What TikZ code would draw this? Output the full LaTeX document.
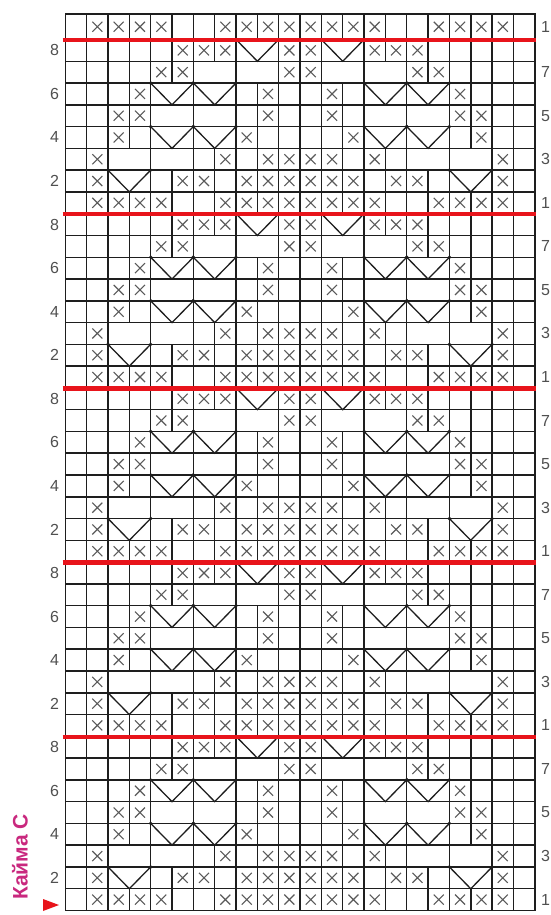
\documentclass[tikz,border=0pt]{standalone}
\usepackage{fontspec}
\setmainfont{Liberation Sans}
\definecolor{gridc}{HTML}{1E1E1E}
\definecolor{xc}{HTML}{5A5A5A}
\definecolor{lblc}{HTML}{505050}
\definecolor{redc}{HTML}{E8141B}
\definecolor{magc}{HTML}{C9287E}
\def\Gl{65.3}\def\Cw{21.34}\def\Gr{534.8}
\def\Rh{21.775}\def\Bz{39.5}\def\Rep{174.2}
\tikzset{
  gridline/.style={line width=1.5pt, draw=gridc, line cap=rect},
  xmark/.style={line width=1.1pt, draw=xc},
  vmark/.style={line width=1.3pt, draw=gridc},
  redline/.style={line width=4.5pt, draw=redc},
  rowlbl/.style={text=lblc, font=\fontsize{16}{16}\selectfont, inner sep=0pt},
}
% #1 ytop, #2 ybot, #3 vertical boundaries, #4 X columns, #5 V left columns (0 = none); lists are macros
\newcommand\chrow[5]{%
  \pgfmathsetmacro\myRt{#1}\pgfmathsetmacro\myRb{#2}\pgfmathsetmacro\myRc{(#1+#2)/2}%
  \foreach \b in #3{\draw[gridline] ({\Gl+\b*\Cw},\myRt) -- ({\Gl+\b*\Cw},\myRb);}%
  \foreach \c in #4{\pgfmathsetmacro\myXc{\Gl+(\c-0.5)*\Cw}%
    \draw[xmark] (\myXc-5,\myRc-5) -- (\myXc+5,\myRc+5) (\myXc-5,\myRc+5) -- (\myXc+5,\myRc-5);}%
  \foreach \c in #5{\ifnum\c>0
    \pgfmathsetmacro\myVl{\Gl+(\c-1)*\Cw}\pgfmathsetmacro\myVm{\Gl+\c*\Cw}\pgfmathsetmacro\myVr{\Gl+(\c+1)*\Cw}%
    \draw[vmark] (\myVl,\myRt) -- (\myVm,\myRb) -- (\myVr,\myRt);
    \fill[gridc] (\myVl,\myRt) circle (1.9) (\myVr,\myRt) circle (1.9);
  \fi}%
}
\def\VLa{0,1,2,3,4,5,6,7,8,9,10,11,12,13,14,15,16,17,18,19,20,21,22}
\def\VLb{0,1,2,4,5,6,7,8,9,10,11,12,13,14,15,16,17,18,20,21,22}
\def\VLc{0,1,2,4,6,7,8,9,10,11,12,13,14,15,16,18,20,21,22}
\def\VLd{0,1,2,3,4,6,8,9,10,11,12,13,14,16,18,19,20,21,22}
\def\VLg{0,1,2,3,4,5,6,8,10,11,12,14,16,17,18,19,20,21,22}
\def\VLh{0,1,2,3,4,5,6,7,8,10,11,12,14,15,16,17,18,19,20,21,22}
\def\XA{2,3,4,5,8,9,10,11,12,13,14,15,18,19,20,21}
\def\XB{2,6,7,9,10,11,12,13,14,16,17,21}
\def\XC{2,8,10,11,12,13,15,21}
\def\XD{3,9,14,20}
\def\XE{3,4,10,13,19,20}
\def\XF{4,10,13,19}
\def\XG{5,6,11,12,17,18}
\def\XH{6,7,8,11,12,15,16,17}
\def\VZ{0}
\def\VB{3,19}
\def\VD{5,7,15,17}
\def\VH{9,13}
\begin{document}
\begin{tikzpicture}[x=1pt,y=-1pt]
\useasboundingbox (0,0) rectangle (550,915);
\fill[white] (0,0) rectangle (550,915);
% horizontal grid lines
\draw[gridline] (\Gl,14) -- (\Gr,14);
\foreach \j in {0,...,40}{\draw[gridline] (\Gl,{\Bz+\j*\Rh}) -- (\Gr,{\Bz+\j*\Rh});}
% top partial row (row 1 pattern)
\chrow{14}{\Bz}{\VLa}{\XA}{\VZ}
\node[rowlbl, anchor=west] (ltop) at (541,{(14+\Bz)/2}) {1};
% five repeats
\foreach \r in {0,...,4}{
  \pgfmathsetmacro\base{\Bz+\Rep*\r}
  \chrow{\base}{\base+\Rh}{\VLh}{\XH}{\VH}
  \chrow{\base+\Rh}{\base+2*\Rh}{\VLg}{\XG}{\VZ}
  \chrow{\base+2*\Rh}{\base+3*\Rh}{\VLd}{\XF}{\VD}
  \chrow{\base+3*\Rh}{\base+4*\Rh}{\VLd}{\XE}{\VZ}
  \chrow{\base+4*\Rh}{\base+5*\Rh}{\VLd}{\XD}{\VD}
  \chrow{\base+5*\Rh}{\base+6*\Rh}{\VLc}{\XC}{\VZ}
  \chrow{\base+6*\Rh}{\base+7*\Rh}{\VLb}{\XB}{\VB}
  \chrow{\base+7*\Rh}{\base+8*\Rh}{\VLa}{\XA}{\VZ}
  \foreach \k in {2,4,6,8}{
    \node[rowlbl] (le\r\k) at (54.5,{\base+(8-\k+0.5)*\Rh}) {\k};}
  \foreach \k in {1,3,5,7}{
    \node[rowlbl, anchor=west] (ro\r\k) at (541,{\base+(8-\k+0.5)*\Rh}) {\k};}
}
% red separator lines
\foreach \m in {0,...,4}{\draw[redline] (62.5,{\Bz+\Rep*\m+0.5}) -- (535.5,{\Bz+\Rep*\m+0.5});}
% title and start marker
\node[rotate=90, text=magc, font=\bfseries\fontsize{21}{21}\selectfont, inner sep=0pt] (title) at (20,857) {Кайма С};
\fill[redc] (43,899) -- (59,905) -- (43,911) -- cycle;
\end{tikzpicture}
\end{document}
